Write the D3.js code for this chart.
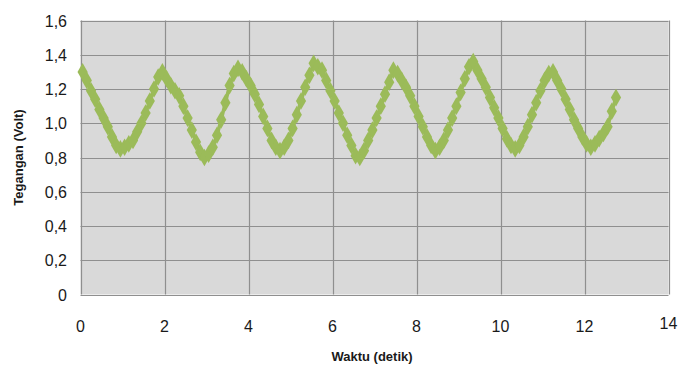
<!DOCTYPE html>
<html><head><meta charset="utf-8">
<script src="https://cdn.jsdelivr.net/npm/d3@7"></script>
<style>body{margin:0;background:#fff}svg{display:block}</style>
</head><body>
<svg id="c" width="688" height="367"></svg>
<script>
const time = [0.05,0.15,0.25,0.35,0.45,0.55,0.65,0.75,0.85,0.95,1.05,1.15,1.25,1.35,1.45,1.55,1.65,1.75,1.85,1.95,
2.05,2.15,2.25,2.35,2.45,2.55,2.65,2.75,2.85,2.95,3.05,3.15,3.25,3.35,3.45,3.55,3.65,3.75,3.85,3.95,
4.05,4.15,4.25,4.35,4.45,4.55,4.65,4.75,4.85,4.95,5.05,5.15,5.25,5.35,5.45,5.55,5.65,5.75,5.85,5.95,
6.05,6.15,6.25,6.35,6.45,6.55,6.65,6.75,6.85,6.95,7.05,7.15,7.25,7.35,7.45,7.55,7.65,7.75,7.85,7.95,
8.05,8.15,8.25,8.35,8.45,8.55,8.65,8.75,8.85,8.95,9.05,9.15,9.25,9.35,9.45,9.55,9.65,9.75,9.85,9.95,
10.05,10.15,10.25,10.35,10.45,10.55,10.65,10.75,10.85,10.95,11.05,11.15,11.25,11.35,11.45,11.55,11.65,11.75,11.85,11.95,
12.05,12.15,12.25,12.35,12.45,12.55,12.65,12.75];
const voltage = [1.30,1.25,1.19,1.14,1.08,1.03,0.98,0.92,0.87,0.85,0.86,0.88,0.90,0.95,1.00,1.06,1.13,1.20,1.27,1.30,
1.26,1.22,1.19,1.16,1.10,1.03,0.96,0.89,0.83,0.80,0.82,0.86,0.93,1.02,1.12,1.22,1.29,1.32,1.30,1.26,
1.22,1.17,1.11,1.04,0.97,0.90,0.86,0.84,0.86,0.90,0.97,1.05,1.13,1.21,1.28,1.35,1.33,1.31,1.25,1.19,
1.13,1.06,1.00,0.93,0.87,0.81,0.80,0.84,0.90,0.96,1.03,1.10,1.17,1.24,1.31,1.29,1.25,1.21,1.16,1.10,
1.04,0.98,0.92,0.87,0.84,0.86,0.90,0.96,1.03,1.10,1.18,1.26,1.33,1.36,1.31,1.26,1.21,1.15,1.09,1.03,
0.97,0.91,0.87,0.85,0.87,0.92,0.98,1.05,1.12,1.19,1.25,1.29,1.30,1.25,1.20,1.14,1.08,1.02,0.97,0.92,
0.88,0.86,0.88,0.91,0.94,0.98,1.07,1.15];
const xTicks = [0,2,4,6,8,10,12,14];
const yTicks = [0,0.2,0.4,0.6,0.8,1.0,1.2,1.4,1.6];
const xTitle = "Waktu (detik)";
const yTitle = "Tegangan (Volt)";

const svg = d3.select("#c");
const L = 80.5, R = 668.5, T = 20.5, B = 294.5;
const x = d3.scaleLinear().domain([0,14]).range([L,R]);
const y = d3.scaleLinear().domain([0,1.6]).range([B,T]);
const fmt = v => d3.format(".1f")(v).replace(".", ",");

svg.append("rect").attr("x",L).attr("y",T).attr("width",R-L).attr("height",B-T).attr("fill","#d9d9d9");
const gridColor = "#8f8f8f";
svg.append("g").selectAll("line").data(yTicks).join("line")
  .attr("x1",L).attr("x2",R).attr("y1",d=>Math.round(y(d))+0.5).attr("y2",d=>Math.round(y(d))+0.5)
  .attr("stroke",gridColor).attr("stroke-width",1.2);
svg.append("g").selectAll("line").data(xTicks).join("line")
  .attr("y1",T).attr("y2",B).attr("x1",d=>Math.round(x(d))+0.5).attr("x2",d=>Math.round(x(d))+0.5)
  .attr("stroke",gridColor).attr("stroke-width",1.2);

svg.append("g").selectAll("text").data(yTicks).join("text")
  .attr("x",67).attr("y",d=>y(d)+6).attr("text-anchor","end")
  .attr("font-family","Liberation Sans, Arial, sans-serif").attr("font-size",16).attr("fill","#1a1a1a")
  .text(d=>d===0?"0":fmt(d));
svg.append("g").selectAll("text").data(xTicks).join("text")
  .attr("x",d=>x(d)).attr("y",d=>d===14?329:332).attr("text-anchor","middle")
  .attr("font-family","Liberation Sans, Arial, sans-serif").attr("font-size",16).attr("fill","#1a1a1a")
  .text(d=>d);

svg.append("text").attr("x",372).attr("y",361).attr("text-anchor","middle")
  .attr("font-family","Liberation Sans, Arial, sans-serif").attr("font-size",13).attr("font-weight","bold").attr("fill","#1a1a1a")
  .text(xTitle);
svg.append("text").attr("transform","translate(23,"+ (T+B)/2 +") rotate(-90)").attr("text-anchor","middle")
  .attr("font-family","Liberation Sans, Arial, sans-serif").attr("font-size",13).attr("font-weight","bold").attr("fill","#1a1a1a")
  .text(yTitle);

const green = "#9bbb59";
const pts = time.map((t,i)=>({t, v: voltage[i]}));
svg.append("path").datum(pts)
  .attr("d", d3.line().x(d=>x(d.t)).y(d=>y(d.v)))
  .attr("fill","none").attr("stroke",green).attr("stroke-width",3.5);
svg.append("g").selectAll("path").data(pts).join("path")
  .attr("d", d3.symbol().type(d3.symbolDiamond).size(90))
  .attr("transform", d=>"translate("+x(d.t)+","+y(d.v)+")")
  .attr("fill",green);
</script>
</body></html>
